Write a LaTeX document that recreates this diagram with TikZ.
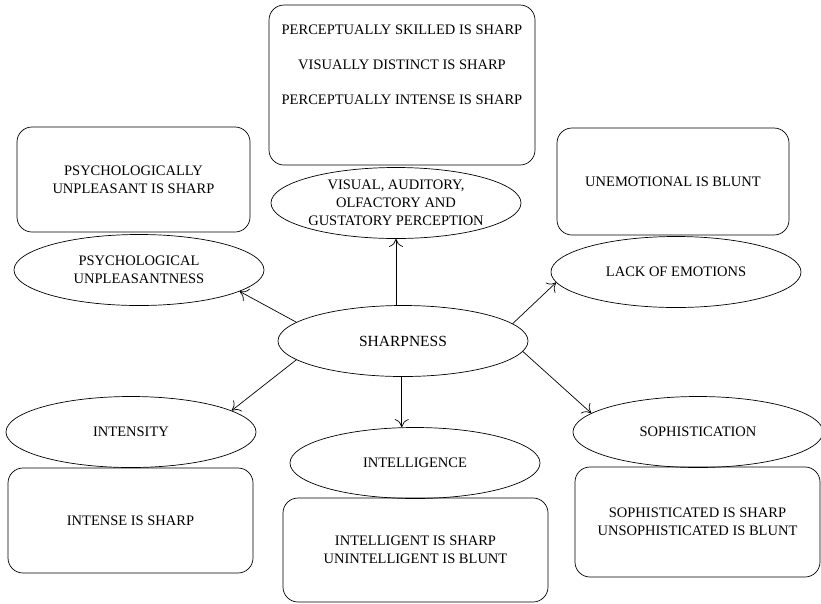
\documentclass[tikz,border=0pt]{standalone}
\usepackage{fontspec}
\setmainfont{Liberation Serif}
\usetikzlibrary{shapes.geometric,arrows.meta}

\begin{document}
\begin{tikzpicture}[x=1pt,y=-1pt,line width=0.7pt,
   font=\fontsize{14.5}{18}\selectfont,
   >={To[length=8pt,width=14pt]},
   idea/.style={draw,ellipse,inner sep=-20pt,minimum width=250pt,minimum height=71pt,align=center},
   meaning/.style={draw,rounded corners=15pt,inner sep=0pt,align=center}]
   \useasboundingbox (0,0) rectangle (821,603);
   % boxes
   \node[meaning,minimum width=266pt,minimum height=160pt] (percbox) at (402,85)
      {PERCEPTUALLY SKILLED IS SHARP\\[17pt]VISUALLY DISTINCT IS SHARP\\[17pt]PERCEPTUALLY INTENSE IS SHARP\\[17pt]\strut};
   \node[meaning,minimum width=233pt,minimum height=105pt] (psybox) at (133.5,179.5)
      {PSYCHOLOGICALLY\\UNPLEASANT IS SHARP};
   \node[meaning,minimum width=232pt,minimum height=107pt] (emobox) at (673,181.5)
      {UNEMOTIONAL IS BLUNT};
   \node[meaning,minimum width=245pt,minimum height=105pt] (intenbox) at (130.5,520.5)
      {INTENSE IS SHARP};
   \node[meaning,minimum width=265pt,minimum height=104pt] (intelbox) at (415.5,550)
      {INTELLIGENT IS SHARP\\UNINTELLIGENT IS BLUNT};
   \node[meaning,minimum width=245pt,minimum height=110pt] (sophbox) at (697.5,522)
      {SOPHISTICATED IS SHARP\\UNSOPHISTICATED IS BLUNT};
   % ellipses
   \node[idea,font=\fontsize{15.5}{18}\selectfont] (sharp) at (403,341) {SHARPNESS};
   \node[idea] (perc) at (396,203) {VISUAL, AUDITORY,\\OLFACTORY AND\\GUSTATORY PERCEPTION};
   \node[idea] (psy) at (139,270) {PSYCHOLOGICAL\\UNPLEASANTNESS};
   \node[idea] (emo) at (676,272) {LACK OF EMOTIONS};
   \node[idea] (inten) at (131,432) {INTENSITY};
   \node[idea] (intel) at (415,463) {INTELLIGENCE};
   \node[idea] (soph) at (698,432) {SOPHISTICATION};
   % arrows
   \draw[->] (perc.south |- sharp.north) -- (perc.south);
   \draw[->] (sharp.170) -- (psy.-12);
   \draw[->] (sharp.9) -- (emo.185);
   \draw[->] (sharp.190) -- (inten.12);
   \draw[->] (sharp.268) -- (sharp.268 |- intel.north);
   \draw[->] (sharp.-5) -- (soph.170);
\end{tikzpicture}
\end{document}
